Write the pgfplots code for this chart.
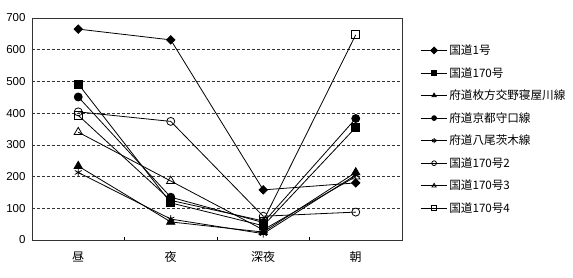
\documentclass[border=0pt]{standalone}
\usepackage{pgfplots}
\pgfplotsset{compat=1.18}
\usepackage{fontspec}
\setmainfont{Liberation Sans}
\newfontfamily\jp{Noto Sans CJK JP}
\begin{document}
\begin{tikzpicture}
\path[use as bounding box] (-32pt,-38pt) rectangle (541pt,240pt);
\begin{axis}[
  at={(0,0)}, anchor=south west,
  scale only axis, width=370pt, height=222pt,
  xmin=-0.5, xmax=3.5, ymin=0, ymax=700,
  ytick={0,100,...,700},
  /pgf/number format/assume math mode=true,
  tick pos=left,
  xtick={0.5,1.5,2.5}, xticklabels={},
  major tick length=3pt,
  x tick style={black},
  tick align=inside,
  extra x ticks={0,1,2,3},
  extra x tick labels={昼,夜,深夜,朝},
  extra x tick style={major tick length=0pt, grid=none,
     xticklabel style={font=\jp\fontsize{12}{14}\selectfont, yshift=-8pt}},
  y tick style={draw=none},
  yticklabel style={font=\fontsize{11.5}{13}\selectfont, xshift=-3pt},
  ymajorgrids, major grid style={densely dashed, black!80, line width=0.5pt},
  axis line style={black!80, line width=0.6pt},
  every axis plot/.append style={black, line width=0.8pt, mark size=4pt},
  legend style={at={(1.049,0.887)}, anchor=north west, draw=none, fill=none,
     font=\jp\fontsize{11.6}{14}\selectfont, row sep=8.3pt, inner sep=0pt,
     nodes={inner sep=1.5pt}},
  legend cell align=left,
  legend image code/.code={\draw[#1, mark size=2.4pt, mark repeat=2, mark phase=2] plot coordinates {(0cm,0cm) (0.47cm,0cm) (0.94cm,0cm)};},
]
\addplot[mark=square*, mark options={rotate=45}, mark size=3pt] coordinates {(0,665) (1,631) (2,158) (3,180)};
\addlegendentry{国道1号}
\addplot[mark=square*] coordinates {(0,492) (1,117) (2,45) (3,355)};
\addlegendentry{国道170号}
\addplot[mark=triangle*, mark size=4.8pt] coordinates {(0,233) (1,57) (2,25) (3,213)};
\addlegendentry{府道枚方交野寝屋川線}
\addplot[mark=*] coordinates {(0,451) (1,135) (2,55) (3,383)};
\addlegendentry{府道京都守口線}
\addplot[mark=asterisk] coordinates {(0,213) (1,66) (2,20) (3,205)};
\addlegendentry{府道八尾茨木線}
\addplot[mark=o, mark options={fill=white}] coordinates {(0,404) (1,374) (2,75) (3,88)};
\addlegendentry{国道170号2}
\addplot[mark=triangle, mark size=4.8pt, mark options={fill=white}] coordinates {(0,340) (1,186) (2,32) (3,200)};
\addlegendentry{国道170号3}
\addplot[mark=square, mark options={fill=white}] coordinates {(0,393) (1,125) (2,60) (3,647)};
\addlegendentry{国道170号4}
\end{axis}
\end{tikzpicture}
\end{document}
